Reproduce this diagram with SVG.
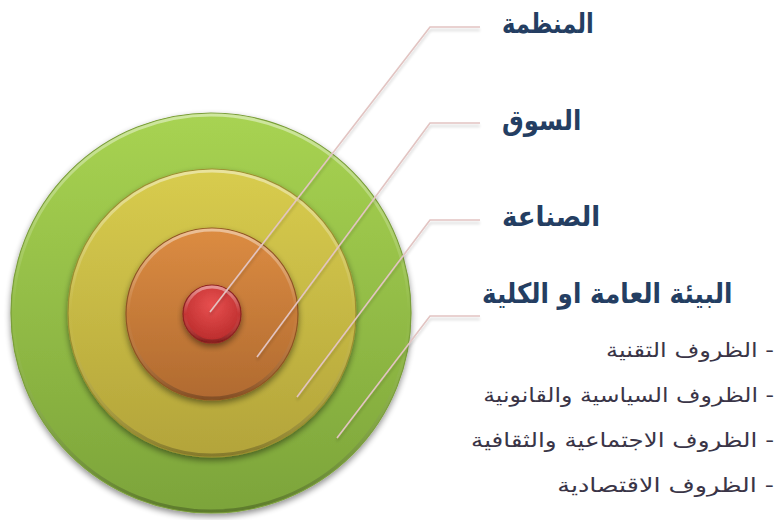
<svg xmlns="http://www.w3.org/2000/svg" width="781" height="520" viewBox="0 0 781 520">
<defs>
<linearGradient id="gGreen" x1="0" y1="0" x2="0" y2="1">
<stop offset="0" stop-color="#a8d352"/><stop offset="1" stop-color="#7ca43a"/>
</linearGradient>
<linearGradient id="gYellow" x1="0" y1="0" x2="0" y2="1">
<stop offset="0" stop-color="#d8cc4e"/><stop offset="1" stop-color="#b3a43a"/>
</linearGradient>
<linearGradient id="gOrange" x1="0" y1="0" x2="0" y2="1">
<stop offset="0" stop-color="#dc8c42"/><stop offset="1" stop-color="#b06a30"/>
</linearGradient>
<radialGradient id="gRed" cx="0.5" cy="0.35" r="0.65">
<stop offset="0" stop-color="#e85050"/><stop offset="1" stop-color="#b82a2a"/>
</radialGradient>
<linearGradient id="bevel" x1="0" y1="0" x2="0" y2="1">
<stop offset="0" stop-color="#ffffff" stop-opacity="0.45"/>
<stop offset="0.5" stop-color="#ffffff" stop-opacity="0"/>
<stop offset="1" stop-color="#000000" stop-opacity="0.25"/>
</linearGradient>
<filter id="sh" x="-10%" y="-10%" width="120%" height="125%">
<feGaussianBlur in="SourceAlpha" stdDeviation="3"/>
<feOffset dy="3" result="b"/>
<feComponentTransfer><feFuncA type="linear" slope="0.45"/></feComponentTransfer>
<feMerge><feMergeNode/><feMergeNode in="SourceGraphic"/></feMerge>
</filter>
<filter id="lsh" x="-10%" y="-10%" width="120%" height="130%">
<feGaussianBlur in="SourceAlpha" stdDeviation="1.5"/>
<feOffset dy="3"/>
<feComponentTransfer><feFuncA type="linear" slope="0.2"/></feComponentTransfer>
<feMerge><feMergeNode/><feMergeNode in="SourceGraphic"/></feMerge>
</filter>
</defs>
<style>
.ring{filter:url(#sh);stroke-width:1.2;}
.bev{fill:none;stroke:url(#bevel);stroke-width:3;}
.con{fill:none;stroke:#e2c4c2;stroke-width:1.6;filter:url(#lsh);}
.title{font-family:"DejaVu Sans","Liberation Sans",sans-serif;font-weight:bold;font-size:28px;fill:#243e62;}
.item{font-family:"DejaVu Sans","Liberation Sans",sans-serif;font-size:20px;fill:#3a3547;}
</style>
<rect width="781" height="520" fill="#ffffff"/>
<g id="ring-macro"><circle class="ring" cx="211" cy="313" r="200" fill="url(#gGreen)" stroke="#7a9e3a"/><circle class="bev" cx="211" cy="313" r="198"/></g>
<g id="ring-industry"><circle class="ring" cx="212" cy="313" r="144" fill="url(#gYellow)" stroke="#9c8e30"/><circle class="bev" cx="212" cy="313" r="142"/></g>
<g id="ring-market"><circle class="ring" cx="212" cy="314" r="86" fill="url(#gOrange)" stroke="#8f5424"/><circle class="bev" cx="212" cy="314" r="84"/></g>
<g id="ring-org"><circle class="ring" cx="212" cy="314" r="29" fill="url(#gRed)" stroke="#8e2020"/><circle class="bev" cx="212" cy="314" r="27"/></g>
<g id="connectors">
<polyline class="con" points="210,312 430,27 480,27"/>
<polyline class="con" points="257,357 430,123 480,123"/>
<polyline class="con" points="297,397 430,220 480,220"/>
<polyline class="con" points="337,438 430,316 480,316"/>
</g>
<g id="label-org"><text class="title" transform="translate(502,33) scale(0.81,1)">المنظمة</text></g>
<g id="label-market"><text class="title" transform="translate(502,130) scale(0.87,1)">السوق</text></g>
<g id="label-industry"><text class="title" transform="translate(502,226) scale(0.93,1)">الصناعة</text></g>
<g id="label-macro">
<text class="title" transform="translate(482,303) scale(0.88,1)">البيئة العامة او الكلية</text>
<text class="item" transform="translate(774,357) scale(1.2,1)" direction="rtl" text-anchor="start">- الظروف التقنية</text>
<text class="item" transform="translate(774,402) scale(1.18,1)" direction="rtl" text-anchor="start">- الظروف السياسية والقانونية</text>
<text class="item" transform="translate(774,447) scale(1.225,1)" direction="rtl" text-anchor="start">- الظروف الاجتماعية والثقافية</text>
<text class="item" transform="translate(774,492) scale(1.27,1)" direction="rtl" text-anchor="start">- الظروف الاقتصادية</text>
</g>
</svg>
